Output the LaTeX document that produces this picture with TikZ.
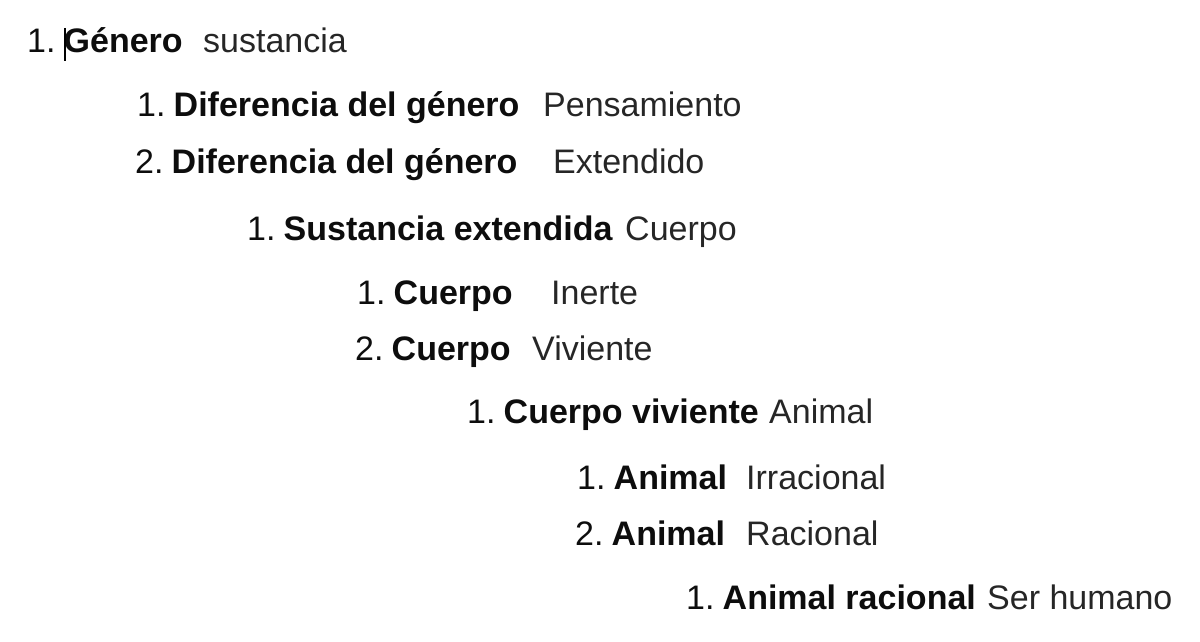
\documentclass[tikz,border=0pt]{standalone}
\usepackage{fontspec}
\setmainfont{Liberation Sans}
\newcommand{\nsep}{\hspace{0.24em}}
\tikzset{
  item/.style={anchor=base west, inner sep=0pt, text=black!95, font=\fontsize{34}{40}\selectfont},
  term/.style={anchor=base west, inner sep=0pt, text=black!85, font=\fontsize{34}{40}\selectfont},
}
\begin{document}
\begin{tikzpicture}[x=1pt, y=-1pt]

\useasboundingbox (0, 0) rectangle (1200, 642);

% baselines
\def\ya{53};
\def\yb{116};
\def\yc{173};
\def\yd{240};
\def\ye{304};
\def\yf{360};
\def\yg{423};
\def\yh{489};
\def\yi{545};
\def\yj{609};

\node[item] (gen) at (27, \ya) {1.\nsep\textbf{Género}};
\node[term] (gent) at (203, \ya) {sustancia};
\draw[line width=1.5pt, black] (65, 28) -- (65, 61); % cursor

\node[item] (dif1) at (137, \yb) {1.\nsep\textbf{Diferencia del género}};
\node[term] (dif1t) at (543, \yb) {Pensamiento};
\node[item] (dif2) at (135, \yc) {2.\nsep\textbf{Diferencia del género}};
\node[term] (dif2t) at (553, \yc) {Extendido};

\node[item] (sus) at (247, \yd) {1.\nsep\textbf{Sustancia extendida}};
\node[term] (sust) at (625, \yd) {Cuerpo};

\node[item] (cue1) at (357, \ye) {1.\nsep\textbf{Cuerpo}};
\node[term] (cue1t) at (551, \ye) {Inerte};
\node[item] (cue2) at (355, \yf) {2.\nsep\textbf{Cuerpo}};
\node[term] (cue2t) at (532, \yf) {Viviente};

\node[item] (viv) at (467, \yg) {1.\nsep\textbf{Cuerpo viviente}};
\node[term] (vivt) at (769, \yg) {Animal};

\node[item] (ani1) at (577, \yh) {1.\nsep\textbf{Animal}};
\node[term] (ani1t) at (746, \yh) {Irracional};
\node[item] (ani2) at (575, \yi) {2.\nsep\textbf{Animal}};
\node[term] (ani2t) at (746, \yi) {Racional};

\node[item] (rac) at (686, \yj) {1.\nsep\textbf{Animal racional}};
\node[term] (ract) at (987, \yj) {Ser humano};

\end{tikzpicture}
\end{document}
